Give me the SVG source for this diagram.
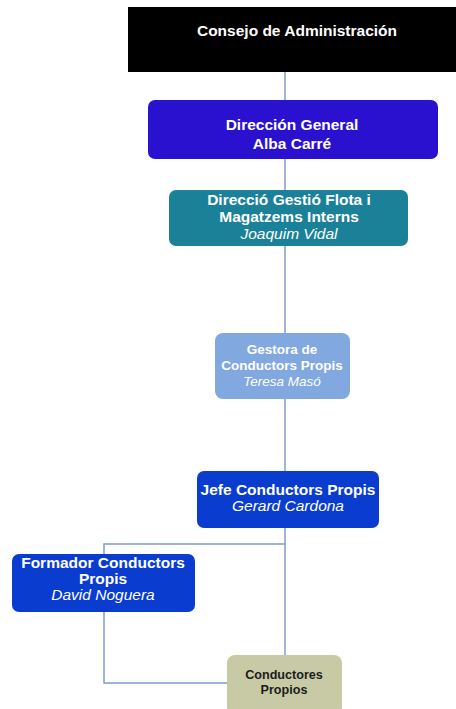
<svg xmlns="http://www.w3.org/2000/svg" width="456" height="709" viewBox="0 0 456 709">
  <style>
    .box { stroke: none; }
    .t { font-family: "Liberation Sans", Arial, sans-serif; font-size: 15.5px; font-weight: bold; fill: #ffffff; text-anchor: middle; }
    .i { font-weight: normal; font-style: italic; }
    .sm { font-size: 13.5px; }
    .dark { fill: #1c1c1c; font-size: 12.6px; }
    .link { fill: none; stroke: #7f9ccb; stroke-width: 1.5; }
  </style>
  <rect width="456" height="709" fill="#ffffff"/>

  <!-- reporting lines -->
  <g id="connectors">
    <line class="link" x1="285" y1="72" x2="285" y2="100"/>
    <line class="link" x1="285" y1="159" x2="285" y2="190"/>
    <line class="link" x1="285" y1="246" x2="285" y2="333"/>
    <line class="link" x1="285" y1="399" x2="285" y2="471"/>
    <line class="link" x1="285" y1="528" x2="285" y2="655"/>
    <polyline class="link" points="285,544 104,544 104,554"/>
    <polyline class="link" points="104,612 104,683 227,683"/>
  </g>

  <g id="consejo">
    <rect class="box" x="128" y="7" width="330" height="65" fill="#000000"/>
    <text class="t" x="297" y="36">Consejo de Administración</text>
  </g>

  <g id="direccion-general">
    <rect class="box" x="148" y="100" width="290" height="59" rx="7" fill="#2a10cf"/>
    <text class="t" x="292" y="130">Dirección General</text>
    <text class="t" x="292" y="149">Alba Carré</text>
  </g>

  <g id="gestio-flota">
    <rect class="box" x="169" y="190" width="239" height="56" rx="7" fill="#1b8199"/>
    <text class="t" x="289" y="205">Direcció Gestió Flota i</text>
    <text class="t" x="289" y="222">Magatzems Interns</text>
    <text class="t i" x="289" y="239">Joaquim Vidal</text>
  </g>

  <g id="gestora-conductors">
    <rect class="box" x="215" y="333" width="135" height="66" rx="8" fill="#82a8e0"/>
    <text class="t sm" x="282" y="354">Gestora de</text>
    <text class="t sm" x="282" y="370">Conductors Propis</text>
    <text class="t sm i" x="282" y="386">Teresa Masó</text>
  </g>

  <g id="jefe-conductors">
    <rect class="box" x="197" y="471" width="182" height="57" rx="7" fill="#0a3ccf"/>
    <text class="t" x="288" y="495">Jefe Conductors Propis</text>
    <text class="t i" x="288" y="511">Gerard Cardona</text>
  </g>

  <g id="formador-conductors">
    <rect class="box" x="12" y="554" width="183" height="58" rx="7" fill="#0a3ccf"/>
    <text class="t" x="103" y="568">Formador Conductors</text>
    <text class="t" x="103" y="584">Propis</text>
    <text class="t i" x="103" y="600">David Noguera</text>
  </g>

  <g id="conductores-propios">
    <rect class="box" x="227" y="655" width="115" height="60" rx="8" fill="#c7caa5"/>
    <text class="t dark" x="284" y="679">Conductores</text>
    <text class="t dark" x="284" y="694">Propios</text>
  </g>
</svg>
